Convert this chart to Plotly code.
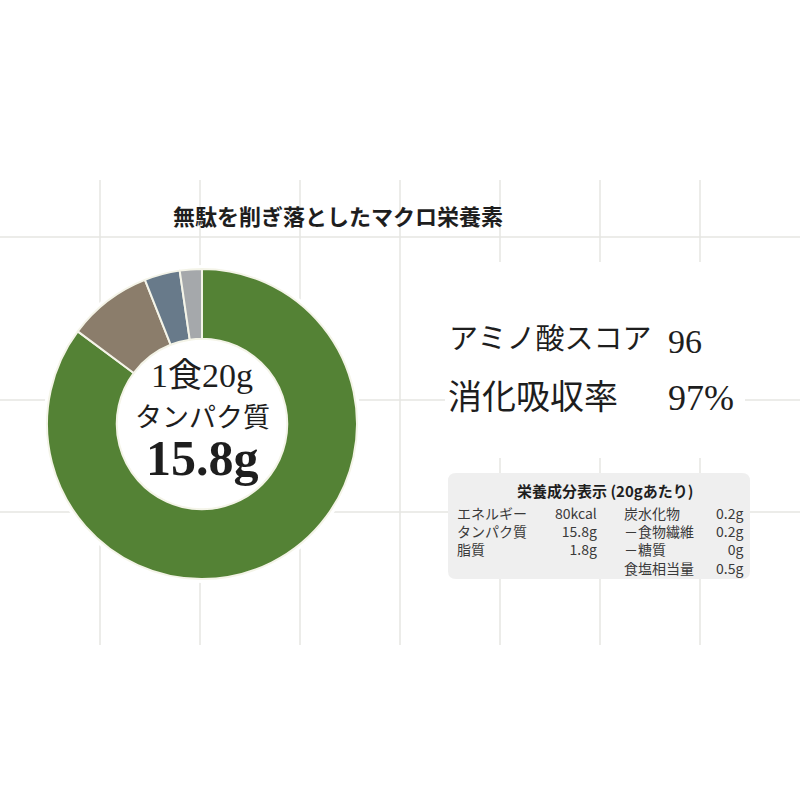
import plotly.graph_objects as go

# ---------------- data ----------------
chart_title = "無駄を削ぎ落としたマクロ栄養素"
slice_labels = ["タンパク質", "脂質", "炭水化物", "その他"]
slice_values = [85.2, 8.8, 3.7, 2.3]

center_lines = ["1食20g", "タンパク質", "15.8g"]

score_labels = ["アミノ酸スコア", "消化吸収率"]
score_values = ["96", "97%"]

table_title = "栄養成分表示 (20gあたり)"
left_labels = ["エネルギー", "タンパク質", "脂質"]
left_values = ["80kcal", "15.8g", "1.8g"]
right_labels = ["炭水化物", "－食物繊維", "－糖質", "食塩相当量"]
right_values = ["0.2g", "0.2g", "0g", "0.5g"]

# ---------------- style ----------------
W = H = 800
slice_colors = ["#548235", "#8b7d6b", "#687a8a", "#a5a8ab"]
SERIF = "Liberation Serif, 'Noto Sans CJK JP', serif"
SANS = "'Noto Sans CJK JP', 'Noto Sans', sans-serif"
TXT = "#1e1e1e"
GRID = "#e6e6e2"

cx, cy, R = 202, 424, 155


def px(x):
    return x / W


def py(y):
    return 1 - y / H


fig = go.Figure()
fig.add_trace(go.Pie(
    labels=slice_labels,
    values=slice_values,
    sort=False,
    direction="clockwise",
    rotation=0,
    hole=0.55,
    textinfo="none",
    hoverinfo="label+percent",
    marker=dict(colors=slice_colors, line=dict(color="#f4f4e8", width=2)),
    domain=dict(x=[px(cx - R), px(cx + R)], y=[py(cy + R), py(cy - R)]),
    showlegend=False,
))

shapes = []
# faint grid
for gx in [100, 200, 300, 400, 500, 600, 700]:
    shapes.append(dict(type="line", xref="paper", yref="paper", layer="below",
                       x0=px(gx), x1=px(gx), y0=py(180), y1=py(645),
                       line=dict(color=GRID, width=1.5)))
for gy in [237, 400, 512]:
    shapes.append(dict(type="line", xref="paper", yref="paper", layer="below",
                       x0=0, x1=1, y0=py(gy), y1=py(gy),
                       line=dict(color=GRID, width=1.5)))
# white masks
halo = R + 4
shapes.append(dict(type="circle", xref="paper", yref="paper", layer="below",
                   x0=px(cx - halo), x1=px(cx + halo), y0=py(cy + halo), y1=py(cy - halo),
                   fillcolor="white", line=dict(width=0)))
shapes.append(dict(type="rect", xref="paper", yref="paper", layer="below",
                   x0=px(445), x1=px(745), y0=py(458), y1=py(262),
                   fillcolor="white", line=dict(width=0)))

# rounded box for nutrition table
bx0, bx1, by0, by1, r = 448, 750, 473, 579, 8
path = (f"M {px(bx0 + r)},{py(by0)} L {px(bx1 - r)},{py(by0)} "
        f"Q {px(bx1)},{py(by0)} {px(bx1)},{py(by0 + r)} "
        f"L {px(bx1)},{py(by1 - r)} Q {px(bx1)},{py(by1)} {px(bx1 - r)},{py(by1)} "
        f"L {px(bx0 + r)},{py(by1)} Q {px(bx0)},{py(by1)} {px(bx0)},{py(by1 - r)} "
        f"L {px(bx0)},{py(by0 + r)} Q {px(bx0)},{py(by0)} {px(bx0 + r)},{py(by0)} Z")
shapes.append(dict(type="path", xref="paper", yref="paper", layer="below", path=path,
                   fillcolor="#efefef", line=dict(width=0)))

ann = []


def text(x, y, s, size, family=SANS, anchor="left", bold=False, color=TXT,
         yanchor="middle", align=None):
    ann.append(dict(x=px(x), y=py(y), xref="paper", yref="paper", text=s,
                    showarrow=False, xanchor=anchor, yanchor=yanchor,
                    align=align or anchor,
                    font=dict(family=family, size=size, color=color,
                              weight="bold" if bold else "normal")))


# title
text(338, 215, chart_title, 22, SANS, "center", bold=True)

# centre of donut
text(cx, 375, center_lines[0], 34, SERIF, "center")
text(cx, 418, center_lines[1], 27, SERIF, "center")
text(cx, 458, center_lines[2], 50, SERIF, "center", bold=True)

# scores
text(447, 339, score_labels[0], 29, SERIF, "left")
text(666, 341, score_values[0], 34, SERIF, "left")
text(446, 397, score_labels[1], 34, SERIF, "left")
text(666, 398, score_values[1], 36, SERIF, "left")

# nutrition table (multi-line blocks)
text(605, 490, table_title, 15, SANS, "center", bold=True)
TC = "#3a3a3a"
top = 501
text(455, top, "<br>".join(left_labels), 14, SANS, "left", color=TC, yanchor="top")
text(599, top, "<br>".join(left_values), 14, SANS, "right", color=TC, yanchor="top")
text(622, top, "<br>".join(right_labels), 14, SANS, "left", color=TC, yanchor="top")
text(745, top, "<br>".join(right_values), 14, SANS, "right", color=TC, yanchor="top")

fig.update_layout(
    width=W, height=H,
    margin=dict(l=0, r=0, t=0, b=0),
    paper_bgcolor="white", plot_bgcolor="white",
    shapes=shapes, annotations=ann,
)

fig.write_html("out.html",
               config={"displayModeBar": False},
               post_script="document.body.style.margin='0';document.body.style.overflow='hidden';")
